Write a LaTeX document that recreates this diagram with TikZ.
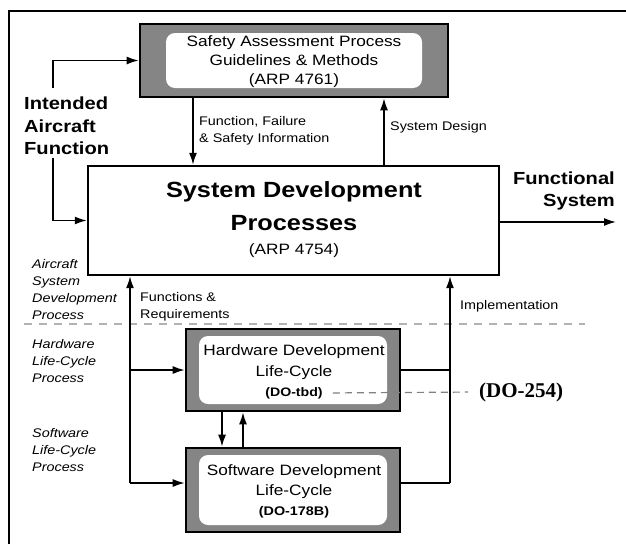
\documentclass[tikz,border=0pt]{standalone}
\usepackage{fontspec}
\setmainfont{Liberation Sans}[FakeStretch=1.15]
\newfontfamily\doserif{Liberation Serif}
\usetikzlibrary{arrows.meta}

\tikzset{
  frameline/.style={line width=1.5pt},
  shadebox/.style={draw=black, line width=2.6pt, fill=black!48, inner sep=0pt},
  whitebox/.style={fill=white, rounded corners=9pt, inner sep=0pt},
  plainbox/.style={draw=black, line width=2.4pt, fill=white, inner sep=0pt},
  wire/.style={line width=1.6pt},
  conn/.style={wire, -{Latex[length=12pt,width=8pt]}},
  guide/.style={gray, line width=1.2pt, dash pattern=on 7pt off 5pt},
  boxtext/.style={align=center, inner sep=0pt, font=\fontsize{15}{19}\selectfont},
  smalllabel/.style={align=left, anchor=west, inner sep=0pt, font=\fontsize{12.5}{17}\selectfont},
  sidelabel/.style={align=left, anchor=west, inner sep=0pt, font=\fontsize{12.5}{17}\selectfont\itshape},
  biglabel/.style={inner sep=0pt, font=\fontsize{17.5}{22.5}\selectfont\bfseries},
}

\begin{document}
\begin{tikzpicture}[x=1pt, y=-1pt]
  \useasboundingbox (0,0) rectangle (626,544);

  % outer frame (top and left edges)
  \draw[frameline] (9,544) -- (9,11) -- (626,11);

  % safety assessment box
  \node[shadebox, minimum width=308pt, minimum height=73pt] (safe) at (294,60.5) {};
  \node[whitebox, minimum width=256pt, minimum height=55pt] (safein) at (safe.center) {};
  \node[boxtext] (safetxt) at (294,61.5) {Safety Assessment Process\\Guidelines \& Methods\\(ARP 4761)};

  % system development box
  \node[plainbox, minimum width=411pt, minimum height=109pt] (sys) at (293.5,220.5) {};
  \node[inner sep=0pt, align=center, font=\fontsize{22}{33}\selectfont\bfseries] (systitle) at (294,206) {System Development\\Processes};
  \node[inner sep=0pt, font=\fontsize{15}{18}\selectfont] (arp) at (294,251) {(ARP 4754)};

  % hardware box
  \node[shadebox, minimum width=214pt, minimum height=82pt] (hw) at (293,370) {};
  \node[whitebox, minimum width=188pt, minimum height=68pt] (hwin) at (hw.center) {};
  \node[boxtext, font=\fontsize{15}{21}\selectfont] (hwtxt) at (294,362) {Hardware Development\\Life-Cycle};
  \node[inner sep=0pt, font=\fontsize{12.3}{15}\selectfont\bfseries] (dotbd) at (294,393) {(DO-tbd)};

  % software box
  \node[shadebox, minimum width=214pt, minimum height=84pt] (sw) at (293,490) {};
  \node[whitebox, minimum width=188pt, minimum height=70pt] (swin) at (sw.center) {};
  \node[boxtext, font=\fontsize{15}{20}\selectfont] (swtxt) at (294,481.5) {Software Development\\Life-Cycle};
  \node[inner sep=0pt, font=\fontsize{12.5}{15}\selectfont\bfseries] (do178) at (294,512) {(DO-178B)};

  % outer labels
  \node[biglabel, align=left, anchor=west] (intent) at (24,126) {Intended\\Aircraft\\Function};
  \node[biglabel, align=right, anchor=east] (funcsys) at (615,191) {Functional\\System};
  \node[inner sep=3pt, anchor=west, font=\doserif\fontsize{21}{24}\selectfont\bfseries] (do254) at (476,392) {(DO-254)};

  \node[smalllabel] (fflabel) at (199,130.5) {Function, Failure\\\& Safety Information};
  \node[smalllabel] (sdlabel) at (390,127) {System Design};
  \node[smalllabel] (frlabel) at (140,307) {Functions \&\\Requirements};
  \node[smalllabel] (impllabel) at (460,306) {Implementation};

  \node[sidelabel] (aclabel) at (32,290) {Aircraft\\System\\Development\\Process};
  \node[sidelabel] (hwlabel) at (32,361) {Hardware\\Life-Cycle\\Process};
  \node[sidelabel] (swlabel) at (32,450) {Software\\Life-Cycle\\Process};

  % level separator
  \draw[gray!60, line width=1.1pt, dash pattern=on 8pt off 7pt] (24,324) -- (585,324);

  % junction points
  \coordinate (ia1) at (53,88);
  \coordinate (ia2) at (53,158);
  \coordinate (ffx) at (193,0);
  \coordinate (sdx) at (384,0);
  \coordinate (fsend) at (616,222);
  \coordinate (lbus) at (130,483);
  \coordinate (rbus) at (450,483);
  \coordinate (dnx) at (222,0);
  \coordinate (upx) at (243,0);

  % intended function inputs
  \draw[conn] (ia1) |- (safe.west);
  \draw[conn] (ia2) |- (sys.west);

  % exchanges with safety assessment
  \draw[conn] (safe.south -| ffx) -- (sys.north -| ffx);
  \draw[conn] (sys.north -| sdx) -- (safe.south -| sdx);

  % functional system output
  \draw[conn] (sys.east |- fsend) -- (fsend);

  % functions and requirements bus
  \draw[conn] (lbus) -- (sys.south -| lbus);
  \draw[conn] (hw.west -| lbus) -- (hw.west);
  \draw[conn] (lbus) -- (sw.west |- lbus);

  % implementation bus
  \draw[wire] (sw.east |- rbus) -- (rbus);
  \draw[wire] (hw.east) -- (hw.east -| rbus);
  \draw[conn] (rbus) -- (sys.south -| rbus);

  % hardware / software exchange
  \draw[conn] (hw.south -| dnx) -- (sw.north -| dnx);
  \draw[conn] (sw.north -| upx) -- (hw.south -| upx);

  % DO-254 reference
  \draw[guide, shorten <=10pt, shorten >=8pt] (dotbd.east) -- (do254.west);
\end{tikzpicture}
\end{document}
